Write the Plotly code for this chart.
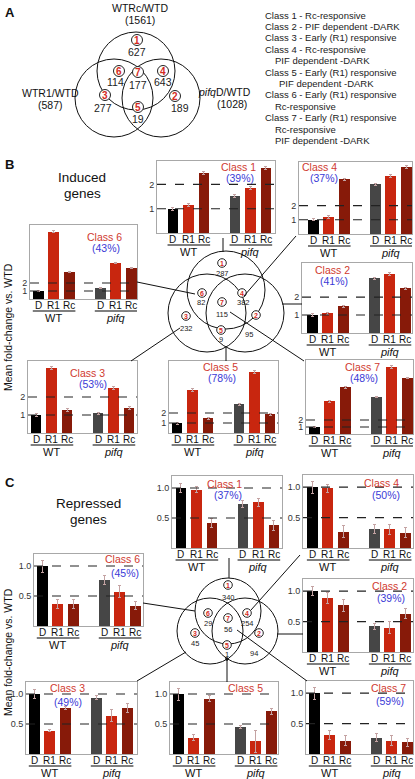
import plotly.graph_objects as go

W, H = 415, 779
FONT = "Arial, Liberation Sans, sans-serif"

# ---------------- data ----------------
conditions = ["D", "R1", "Rc", "D", "R1", "Rc"]
genotypes = ["WT", "<i>pifq</i>"]
xpos = [0, 1, 2, 4, 5, 6]

legend_lines = [
    "Class 1 - Rc-responsive",
    "Class 2 - PIF dependent -DARK",
    "Class 3 - Early (R1) responsive",
    "Class 4 - Rc-responsive",
    "PIF dependent -DARK",
    "Class 5 - Early (R1) responsive",
    "PIF dependent -DARK",
    "Class 6 - Early (R1) responsive",
    "Rc-responsive",
    "Class 7 - Early (R1) responsive",
    "Rc-responsive",
    "PIF dependent -DARK",
]

venn_a_sets = ["WTRc/WTD", "(1561)", "WTR1/WTD", "(587)", "<i>pifq</i>D/WTD", "(1028)"]
venn_a_counts = [627, 189, 277, 643, 19, 114, 177]   # classes 1..7
venn_b_counts = [287, 95, 232, 382, 9, 82, 115]
venn_c_counts = [340, 94, 45, 254, 1, 29, 56]

# induced genes (mean fold-change vs WT D)
ind_c1 = [1.0, 1.14, 2.48, 1.52, 1.84, 2.68]
ind_c2 = [1.0, 1.10, 1.50, 3.05, 3.30, 2.50]
ind_c3 = [1.0, 3.60, 1.28, 1.10, 2.50, 1.39]
ind_c4 = [1.0, 1.20, 3.85, 3.50, 4.07, 4.70]
ind_c5 = [1.0, 4.30, 1.50, 2.90, 6.10, 1.90]
ind_c6 = [1.0, 8.40, 3.40, 1.40, 4.50, 3.90]
ind_c7 = [1.0, 4.70, 6.70, 5.30, 9.60, 8.00]
ind_c1_err = [0.06, 0.06, 0.06, 0.06, 0.06, 0.06]
ind_c2_err = [0.06, 0.06, 0.06, 0.06, 0.08, 0.06]
ind_c3_err = [0.06, 0.08, 0.06, 0.06, 0.08, 0.06]
ind_c4_err = [0.08, 0.08, 0.08, 0.08, 0.1, 0.1]
ind_c5_err = [0.1, 0.12, 0.1, 0.1, 0.15, 0.1]
ind_c6_err = [0.1, 0.12, 0.1, 0.1, 0.12, 0.1]
ind_c7_err = [0.12, 0.12, 0.12, 0.12, 0.15, 0.12]
ind_pct = ["(39%)", "(41%)", "(53%)", "(37%)", "(78%)", "(43%)", "(48%)"]

# repressed genes
rep_c1 = [1.0, 0.97, 0.42, 0.73, 0.76, 0.38]
rep_c2 = [1.0, 0.89, 0.77, 0.42, 0.40, 0.63]
rep_c3 = [1.0, 0.39, 0.77, 0.94, 0.64, 0.77]
rep_c4 = [1.0, 0.98, 0.27, 0.31, 0.31, 0.25]
rep_c5 = [1.0, 0.27, 0.92, 0.45, 0.21, 0.71]
rep_c6 = [1.0, 0.37, 0.37, 0.77, 0.57, 0.34]
rep_c7 = [1.0, 0.31, 0.22, 0.27, 0.22, 0.19]
rep_c1_err = [0.08, 0.05, 0.07, 0.06, 0.07, 0.08]
rep_c2_err = [0.07, 0.09, 0.10, 0.05, 0.10, 0.08]
rep_c3_err = [0.08, 0.02, 0.02, 0.03, 0.10, 0.08]
rep_c4_err = [0.10, 0.06, 0.10, 0.07, 0.08, 0.08]
rep_c5_err = [0.10, 0.05, 0.05, 0.03, 0.18, 0.05]
rep_c6_err = [0.10, 0.08, 0.08, 0.08, 0.10, 0.07]
rep_c7_err = [0.10, 0.07, 0.08, 0.06, 0.08, 0.07]
rep_pct = ["(37%)", "(39%)", "(49%)", "(50%)", "", "(45%)", "(59%)"]

# ---------------- styling ----------------
C_D, C_R1, C_RC, C_PD = "#000000", "#c8260f", "#871a09", "#464646"
bar_colors = [C_D, C_R1, C_RC, C_PD, C_R1, C_RC]
RED_TXT, BLUE_TXT = "#d03a30", "#3a3ad6"
BOX_COL = "#a8a8a8"
SP = 15.5  # px per x unit

fig = go.Figure()
shapes, annotations = [], []
layout = {}


def text(x, y, s, size=10, color="#111", xanchor="center", yanchor="middle", angle=0):
    annotations.append(dict(x=x / W, y=1 - y / H, xref="paper", yref="paper", text=s,
                            showarrow=False, textangle=angle,
                            font=dict(family=FONT, size=size, color=color),
                            xanchor=xanchor, yanchor=yanchor))


def line(x0, y0, x1, y1, color="#111", width=1):
    shapes.append(dict(type="line", xref="paper", yref="paper", x0=x0 / W, y0=1 - y0 / H,
                       x1=x1 / W, y1=1 - y1 / H, line=dict(color=color, width=width)))


def circle(cx, cy, r, color="#111", width=1, fill="rgba(0,0,0,0)"):
    shapes.append(dict(type="circle", xref="paper", yref="paper", x0=(cx - r) / W, x1=(cx + r) / W,
                       y0=1 - (cy + r) / H, y1=1 - (cy - r) / H, fillcolor=fill,
                       line=dict(color=color, width=width)))


def venn(circles, r, labels, counts, num_size, cnt_size, badge_r):
    for (cx, cy) in circles:
        circle(cx, cy, r, width=1)
    for k, ((bx, by), (nx, ny)) in enumerate(labels):
        circle(bx, by, badge_r, color="#222", width=1, fill="white")
        text(bx, by + 0.5, "<b>%d</b>" % (k + 1), size=num_size, color="#d42a1e")
        text(nx, ny, str(counts[k]), size=cnt_size, color="#222")


# ---------------- panel A ----------------
text(3, 12, "<b>A</b>", size=13, xanchor="left")
venn([(136, 71), (114, 98), (161, 98)], 39,
     [((137, 40), (137, 52)), ((175, 96), (180, 108)), ((105, 95), (103, 108)),
      ((163, 71), (163, 82)), ((138, 107), (138, 119)), ((119, 71), (115, 82)),
      ((138, 72), (138, 85))],
     venn_a_counts, 10, 10.5, 5.5)
text(140, 8, venn_a_sets[0], size=10.5)
text(140, 20, venn_a_sets[1], size=10.5)
text(50, 93, venn_a_sets[2], size=10.5)
text(50, 105, venn_a_sets[3], size=10.5)
text(224, 92, venn_a_sets[4], size=10.5)
text(232, 104, venn_a_sets[5], size=10.5)
leg_x = [263, 263, 263, 263, 273, 263, 277, 263, 273, 263, 273, 273]
for i, s in enumerate(legend_lines):
    text(leg_x[i], 15 + i * 11.4, s, size=9.5, xanchor="left", color="#222")

# ---------------- panels B & C ----------------
text(3, 165, "<b>B</b>", size=13, xanchor="left")
text(82, 178, "Induced", size=13.5)
text(82, 194, "genes", size=13.5)
text(8, 327, "Mean fold-change vs. WTD", size=10.5, angle=-90)

text(3, 482, "<b>C</b>", size=13, xanchor="left")
text(88, 503, "Repressed", size=13.5)
text(88, 519, "genes", size=13.5)
text(8, 652, "Mean fold-change vs. WTD", size=10.5, angle=-90)

ind_vals = [ind_c1, ind_c2, ind_c3, ind_c4, ind_c5, ind_c6, ind_c7]
ind_errs = [ind_c1_err, ind_c2_err, ind_c3_err, ind_c4_err, ind_c5_err, ind_c6_err, ind_c7_err]
rep_vals = [rep_c1, rep_c2, rep_c3, rep_c4, rep_c5, rep_c6, rep_c7]
rep_errs = [rep_c1_err, rep_c2_err, rep_c3_err, rep_c4_err, rep_c5_err, rep_c6_err, rep_c7_err]

# box (l, t, r, b) px, y top, x min, class label pos, pct pos
ind_layout = [
    ((157, 161, 275, 233), 2.96, -1.03, (238, 167), (240, 178)),
    ((302, 263, 412, 333), 3.9, -0.65, (332, 270), (334, 281)),
    ((28, 361, 137, 433), 4.0, -0.52, (87, 373), (93, 384)),
    ((299, 162, 412, 234), 5.07, -0.93, (319, 167), (324, 178)),
    ((169, 361, 278, 433), 7.2, -0.52, (220, 367), (222, 378)),
    ((30, 225, 137, 299), 9.25, -0.53, (105, 237), (106, 248)),
    ((306, 360, 413, 434), 10.6, -0.53, (362, 367), (364, 378)),
]
rep_layout = [
    ((172, 476, 282, 548), 1.2, -0.58, (224, 484), (228, 495)),
    ((303, 579, 413, 652), 1.2, -0.6, (389, 586), (391, 598)),
    ((26, 682, 137, 754), 1.2, -0.53, (67, 688), (68, 702)),
    ((303, 475, 413, 548), 1.2, -0.6, (381, 483), (386, 495)),
    ((170, 682, 278, 754), 1.2, -0.53, (245, 688), (245, 701)),
    ((34, 554, 143, 626), 1.2, -0.53, (122, 559), (125, 573)),
    ((306, 681, 413, 754), 1.2, -0.53, (388, 688), (390, 701)),
]

panels = []
for k in range(7):
    panels.append(("ind", k, ind_vals[k], ind_errs[k], ind_pct[k]) + ind_layout[k])
for k in range(7):
    panels.append(("rep", k, rep_vals[k], rep_errs[k], rep_pct[k]) + rep_layout[k])

for i, (kind, k, vals, errs, pct, box, ytop, xmin, lpos, ppos) in enumerate(panels, start=1):
    sfx = "" if i == 1 else str(i)
    xa, ya = "x" + sfx, "y" + sfx
    l, t, r, b = box
    xmax = xmin + (r - l) / SP
    if kind == "ind":
        refs, tv, tt = [1, 2], [1, 2], ["1", "2"]
    else:
        refs, tv, tt = [0.5, 1.0], [0.5, 1.0], ["0.5", "1.0"]
    layout["xaxis" + sfx] = dict(domain=[l / W, r / W], anchor=ya, range=[xmin, xmax],
                                 showticklabels=False, ticks="", showgrid=False, zeroline=False,
                                 showline=True, mirror=True, linecolor=BOX_COL, linewidth=1,
                                 fixedrange=True)
    layout["yaxis" + sfx] = dict(domain=[1 - b / H, 1 - t / H], anchor=xa, range=[0, ytop],
                                 tickvals=tv, ticktext=tt, ticks="", ticklen=0,
                                 tickfont=dict(family=FONT, size=9, color="#333"),
                                 showgrid=False, zeroline=False, showline=True, mirror=True,
                                 linecolor=BOX_COL, linewidth=1, fixedrange=True)
    fig.add_trace(go.Bar(x=xpos, y=vals, width=0.7, xaxis=xa, yaxis=ya,
                         marker=dict(color=bar_colors, line=dict(width=0)),
                         error_y=dict(type="data", array=errs, color="#c4a3a3",
                                      thickness=1, width=1.5),
                         showlegend=False, hoverinfo="skip"))
    for v in refs:
        shapes.append(dict(type="line", xref=xa + " domain", yref=ya, x0=0, x1=1, y0=v, y1=v,
                           line=dict(color="#222", width=1.1, dash="dash")))
    for xp, c in zip(xpos, conditions):
        annotations.append(dict(x=xp, xref=xa, y=1 - (b + 6.5) / H, yref="paper", text=c,
                                showarrow=False, font=dict(family=FONT, size=10, color="#111"),
                                xanchor="center", yanchor="middle"))
    for g0, g in zip((0, 4), genotypes):
        shapes.append(dict(type="line", xref=xa, yref="paper", x0=g0 - 0.35, x1=g0 + 2.4,
                           y0=1 - (b + 12) / H, y1=1 - (b + 12) / H,
                           line=dict(color="#555", width=1.3)))
        annotations.append(dict(x=g0 + 1, xref=xa, y=1 - (b + 19) / H, yref="paper", text=g,
                                showarrow=False, font=dict(family=FONT, size=11, color="#111"),
                                xanchor="center", yanchor="middle"))
    text(lpos[0], lpos[1], "Class %d" % (k + 1), size=10.5, color=RED_TXT)
    if pct:
        text(ppos[0], ppos[1], pct, size=10.5, color=BLUE_TXT)

# central venns
venn([(226, 290), (207, 313), (245, 313)], 39,
     [((222, 263), (222, 273)), ((256, 315), (249, 334)), ((186, 316), (186, 328)),
      ((242, 293), (243, 303)), ((221, 330), (221, 339)), ((202, 293), (201, 303)),
      ((222, 302), (222, 314))],
     venn_b_counts, 7, 7.5, 4.3)
venn([(228, 611), (210, 631), (245, 631)], 33,
     [((228, 585), (228, 597)), ((259, 633), (254, 653)), ((195, 633), (195, 643)),
      ((247, 613), (247, 623)), ((227, 645), (227, 654)), ((208, 613), (208, 623)),
      ((228, 618), (228, 629))],
     venn_c_counts, 7, 7.5, 4.3)

# connectors B
line(223, 238, 223, 252)
line(244, 296, 296, 236)
line(282, 304, 302, 304)
line(230, 312, 304, 361)
line(226, 347, 226, 361)
line(180, 328, 131, 361)
line(137, 282, 195, 294)
# connectors C
line(229, 558, 229, 578)
line(251, 610, 300, 555)
line(277, 634, 303, 634)
line(237, 630, 307, 681)
line(227, 659, 227, 682)
circle(227, 659, 1.3, fill="#111")
line(186, 652, 137, 681)
line(143, 603, 195, 611)

fig.update_layout(**layout)
fig.update_layout(width=W, height=H, margin=dict(l=0, r=0, t=0, b=0),
                  paper_bgcolor="white", plot_bgcolor="white", showlegend=False,
                  shapes=shapes, annotations=annotations, bargap=0,
                  font=dict(family=FONT))
fig.write_html("out.html", config={"displayModeBar": False, "staticPlot": True},
               post_script="document.body.style.margin='0px';"
                           "document.body.style.overflow='hidden';")
